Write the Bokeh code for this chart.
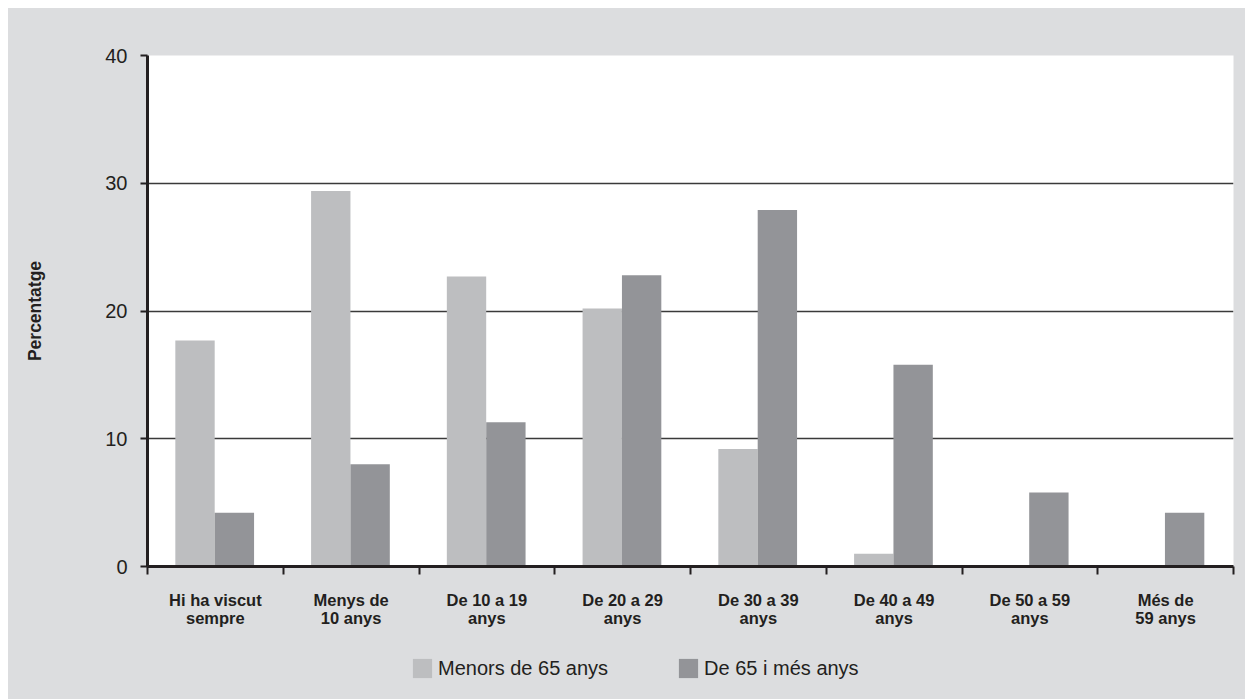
import numpy as np
from bokeh.plotting import figure
from bokeh.layouts import column
from bokeh.models import (ColumnDataSource, FixedTicker, Range1d, Legend, LegendItem,
                          LinearAxis)
from bokeh.embed import file_html
from bokeh.resources import INLINE

# ---- data ----
categories = ["Hi ha viscut\nsempre", "Menys de\n10 anys", "De 10 a 19\nanys",
              "De 20 a 29\nanys", "De 30 a 39\nanys", "De 40 a 49\nanys",
              "De 50 a 59\nanys", "Més de\n59 anys"]
menors_65 = [17.7, 29.4, 22.7, 20.2, 9.2, 1.0, 0.0, 0.0]
de_65_mes = [4.2, 8.0, 11.3, 22.8, 27.9, 15.8, 5.8, 4.2]
y_ticks = [0, 10, 20, 30, 40]
series_names = ["Menors de 65 anys", "De 65 i més anys"]

LIGHT = "#bdbec0"
DARK = "#939498"
BG = "#dcdddf"
INK = "#231f20"
FONT = "Liberation Sans"

idx = np.arange(len(categories))
src = ColumnDataSource(dict(
    x1=idx + 0.35, x2=idx + 0.64, m=menors_65, g=de_65_mes))

p = figure(width=1237, height=632, output_backend="svg", toolbar_location=None,
           x_range=Range1d(0, len(categories)), y_range=Range1d(0, 40),
           min_border_left=139, min_border_right=12, min_border_top=47,
           min_border_bottom=74, x_axis_location=None, y_axis_location=None)
p.background_fill_color = "white"
p.border_fill_color = BG
p.outline_line_color = None

r1 = p.vbar(x="x1", width=0.29, top="m", bottom=0, source=src,
            fill_color=LIGHT, line_color=None)
r2 = p.vbar(x="x2", width=0.29, top="g", bottom=0, source=src,
            fill_color=DARK, line_color=None)

# grid
p.xgrid.visible = False
p.ygrid.ticker = FixedTicker(ticks=[10, 20, 30, 40])
p.ygrid.grid_line_color = "#3a3a3a"
p.ygrid.grid_line_width = 1.6
p.ygrid.level = "underlay"

# y axis
yaxis = LinearAxis(ticker=FixedTicker(ticks=y_ticks))
yaxis.axis_line_color = INK
yaxis.axis_line_width = 3
yaxis.major_tick_line_color = INK
yaxis.major_tick_line_width = 2
yaxis.major_tick_out = 7
yaxis.major_tick_in = 0
yaxis.minor_tick_line_color = None
yaxis.major_label_text_font = FONT
yaxis.major_label_text_font_size = "20px"
yaxis.major_label_text_color = INK
yaxis.major_label_standoff = 13
yaxis.axis_label = "Percentatge"
yaxis.axis_label_text_font = FONT
yaxis.axis_label_text_font_style = "bold"
yaxis.axis_label_text_font_size = "17.5px"
yaxis.axis_label_text_color = INK
yaxis.axis_label_standoff = 57
p.add_layout(yaxis, "left")

# x axis: labels at centers, ticks at boundaries
centers = [i + 0.5 for i in range(len(categories))]
bounds = [float(i) for i in range(len(categories) + 1)]
xaxis = LinearAxis(ticker=FixedTicker(ticks=centers, minor_ticks=bounds))
xaxis.major_label_overrides = {c: lab for c, lab in zip(centers, categories)}
xaxis.axis_line_color = INK
xaxis.axis_line_width = 3
xaxis.major_tick_line_color = None
xaxis.major_tick_out = 0
xaxis.major_tick_in = 0
xaxis.minor_tick_line_color = INK
xaxis.minor_tick_line_width = 2
xaxis.minor_tick_out = 8
xaxis.minor_tick_in = 0
xaxis.major_label_text_font = FONT
xaxis.major_label_text_font_style = "bold"
xaxis.major_label_text_font_size = "16.5px"
xaxis.major_label_text_color = INK
xaxis.major_label_text_line_height = 1.0
xaxis.major_label_standoff = 16
p.add_layout(xaxis, "below")

# ---- legend strip (separate figure so the legend is not clipped) ----
lf = figure(width=1237, height=59, output_backend="svg", toolbar_location=None,
            x_range=Range1d(0, 1), y_range=Range1d(0, 1),
            min_border_left=139, min_border_right=12, min_border_top=0,
            min_border_bottom=0, x_axis_location=None, y_axis_location=None)
lf.background_fill_color = None
lf.border_fill_color = BG
lf.outline_line_color = None
lf.grid.visible = False
# legend swatches: one point each, placed outside the visible range
dummy = ColumnDataSource(dict(x=[-10.0], top=[-10.0]))
lr1 = lf.vbar(x="x", top="top", bottom=-20, width=0.1, source=dummy,
              fill_color=LIGHT, line_color=None)
lr2 = lf.vbar(x="x", top="top", bottom=-20, width=0.1, source=dummy,
              fill_color=DARK, line_color=None)

legend = Legend(items=[LegendItem(label=series_names[0], renderers=[lr1]),
                       LegendItem(label=series_names[1], renderers=[lr2])],
                orientation="horizontal", location=(263, 19))
legend.background_fill_alpha = 0
legend.border_line_color = None
legend.padding = 0
legend.margin = 0
legend.spacing = 68
legend.glyph_width = 24
legend.glyph_height = 24
legend.label_standoff = 4
legend.label_height = 19
legend.label_text_font = FONT
legend.label_text_font_size = "20px"
legend.label_text_color = INK
legend.label_text_baseline = "middle"
lf.add_layout(legend, "center")

layout = column(p, lf, spacing=0, margin=(8, 0, 0, 8),
                styles={"background-color": BG})
open("out.html", "w").write(file_html(layout, INLINE))
